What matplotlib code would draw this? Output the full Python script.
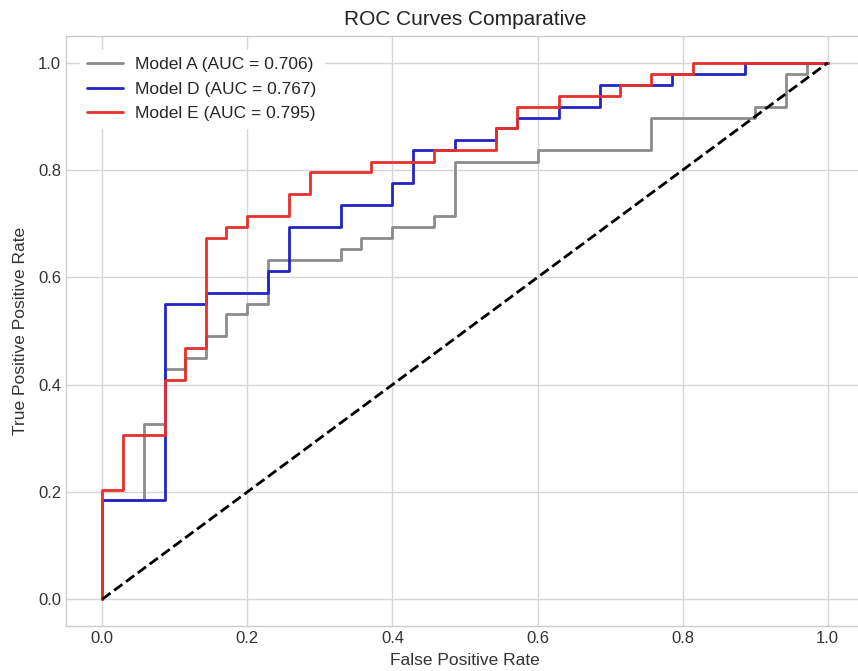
import matplotlib
matplotlib.use("Agg")
import matplotlib.pyplot as plt

# step points (fpr, tpr)
fpr_a = [0, 0, 0.057, 0.057, 0.086, 0.086, 0.114, 0.114, 0.143, 0.143, 0.171, 0.171,
         0.2, 0.2, 0.229, 0.229, 0.329, 0.329, 0.357, 0.357, 0.4, 0.4, 0.457, 0.457,
         0.486, 0.486, 0.6, 0.6, 0.757, 0.757, 0.9, 0.9, 0.943, 0.943, 0.971, 0.971, 1.0]
tpr_a = [0, 0.184, 0.184, 0.327, 0.327, 0.429, 0.429, 0.449, 0.449, 0.49, 0.49, 0.531,
         0.531, 0.551, 0.551, 0.633, 0.633, 0.653, 0.653, 0.673, 0.673, 0.694, 0.694, 0.714,
         0.714, 0.816, 0.816, 0.837, 0.837, 0.898, 0.898, 0.918, 0.918, 0.98, 0.98, 1.0, 1.0]

fpr_d = [0, 0, 0.086, 0.086, 0.143, 0.143, 0.229, 0.229, 0.257, 0.257, 0.329, 0.329,
         0.4, 0.4, 0.429, 0.429, 0.486, 0.486, 0.543, 0.543, 0.571, 0.571, 0.629, 0.629,
         0.686, 0.686, 0.786, 0.786, 0.886, 0.886, 1.0]
tpr_d = [0, 0.184, 0.184, 0.551, 0.551, 0.571, 0.571, 0.612, 0.612, 0.694, 0.694, 0.735,
         0.735, 0.776, 0.776, 0.837, 0.837, 0.857, 0.857, 0.878, 0.878, 0.898, 0.898, 0.918,
         0.918, 0.959, 0.959, 0.98, 0.98, 1.0, 1.0]

fpr_e = [0, 0, 0.029, 0.029, 0.086, 0.086, 0.114, 0.114, 0.143, 0.143, 0.171, 0.171,
         0.2, 0.2, 0.257, 0.257, 0.286, 0.286, 0.371, 0.371, 0.457, 0.457, 0.543, 0.543,
         0.571, 0.571, 0.629, 0.629, 0.714, 0.714, 0.757, 0.757, 0.814, 0.814, 1.0]
tpr_e = [0, 0.204, 0.204, 0.306, 0.306, 0.408, 0.408, 0.469, 0.469, 0.673, 0.673, 0.694,
         0.694, 0.714, 0.714, 0.755, 0.755, 0.796, 0.796, 0.816, 0.816, 0.837, 0.837, 0.878,
         0.878, 0.918, 0.918, 0.939, 0.939, 0.959, 0.959, 0.98, 0.98, 1.0, 1.0]

labels = ["Model A (AUC = 0.706)", "Model D (AUC = 0.767)", "Model E (AUC = 0.795)"]
ticks = [0.0, 0.2, 0.4, 0.6, 0.8, 1.0]

plt.style.use("seaborn-v0_8-whitegrid")
plt.rcParams["font.family"] = ["Liberation Sans", "DejaVu Sans"]

fig = plt.figure(figsize=(8.58, 6.71), dpi=100)
ax = fig.add_axes([66 / 858, 45 / 671, 798 / 858, 590 / 671])

ax.plot(fpr_a, tpr_a, color="#8c8c8c", lw=2, label=labels[0])
ax.plot(fpr_d, tpr_d, color="#2323c8", lw=2, label=labels[1])
ax.plot(fpr_e, tpr_e, color="#e8302a", lw=2, label=labels[2])
ax.plot([0, 1], [0, 1], "k--", lw=2)

ax.set_xlim(-0.05, 1.05)
ax.set_ylim(-0.05, 1.05)
ax.set_xticks(ticks)
ax.set_yticks(ticks)
ax.tick_params(labelsize=12, colors="#333333")
ax.grid(color="#d6d6d6", lw=1)
for s in ax.spines.values():
    s.set_visible(True)
    s.set_color("#cccccc")

ax.set_title("ROC Curves Comparative", fontsize=15, color="#222222", pad=8)
ax.set_xlabel("False Positive Rate", fontsize=12.5, color="#333333", labelpad=5)
ax.set_ylabel("True Positive Positive Rate", fontsize=12.5, color="#333333", labelpad=7)

leg = ax.legend(loc="upper left", fontsize=12.5, frameon=True, framealpha=1,
                edgecolor="white", borderaxespad=0.8, handlelength=2.1,
                handletextpad=0.7, labelspacing=0.55)

fig.savefig("out.png", dpi=100)
